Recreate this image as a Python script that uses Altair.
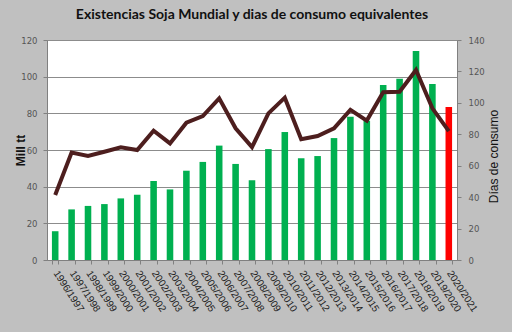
import altair as alt
import pandas as pd

campanas = ["1996/1997", "1997/1998", "1998/1999", "1999/2000", "2000/2001",
            "2001/2002", "2002/2003", "2003/2004", "2004/2005", "2005/2006",
            "2006/2007", "2007/2008", "2008/2009", "2009/2010", "2010/2011",
            "2011/2012", "2012/2013", "2013/2014", "2014/2015", "2015/2016",
            "2016/2017", "2017/2018", "2018/2019", "2019/2020", "2020/2021"]
existencias = [15.7, 27.6, 29.5, 30.5, 33.6, 35.6, 43.1, 38.5, 48.7, 53.5,
               62.4, 52.4, 43.5, 60.5, 69.8, 55.5, 56.7, 66.5, 78.2, 76.0,
               95.5, 98.9, 114.0, 96.0, 83.5]
dias = [41.4, 68.4, 66.2, 68.9, 71.7, 70.0, 82.3, 74.2, 87.4, 91.6,
        102.9, 83.8, 71.8, 93.3, 103.3, 76.8, 78.9, 83.8, 95.5, 88.7,
        106.7, 107.1, 120.9, 96.5, 82.0]
tipo = ["hist"] * 24 + ["est"]

df = pd.DataFrame({"campana": campanas, "existencias": existencias,
                   "dias": dias, "tipo": tipo})

xenc = alt.X("campana:N", sort=campanas, title=None,
             scale=alt.Scale(paddingInner=0.6, paddingOuter=0.3),
             axis=alt.Axis(labelAngle=57, labelAlign="left", labelBaseline="middle",
                           labelFont="Liberation Sans", labelFontSize=10,
                           labelColor="#222222", labelPadding=7,
                           tickBand="extent", tickSize=4, tickColor="#808080",
                           domainColor="#808080", labelOverlap=False))

bars = alt.Chart(df).mark_bar(stroke=None).encode(
    x=xenc,
    y=alt.Y("existencias:Q", title="Mill tt",
            scale=alt.Scale(domain=[0, 120]),
            axis=alt.Axis(values=[0, 20, 40, 60, 80, 100, 120], orient="left",
                          labelFont="DejaVu Sans", labelFontSize=8.5,
                          labelColor="#555555", tickSize=4, tickColor="#808080",
                          domainColor="#808080", gridColor="#8c8c8c",
                          titleFont="Liberation Sans", titleFontSize=12,
                          titleFontWeight="bold", titleColor="#111111",
                          titleX=-27, titleY=110, titleAngle=270,
                          titleAlign="center", titleBaseline="middle",
                          labelPadding=6)),
    color=alt.Color("tipo:N", scale=alt.Scale(domain=["hist", "est"],
                                              range=["#00b050", "#ff0000"]),
                    legend=None),
)

line = alt.Chart(df).mark_line(color="#4d1e1e", strokeWidth=4,
                               strokeJoin="miter").encode(
    x=alt.X("campana:N", sort=campanas),
    y=alt.Y("dias:Q", title="Días de consumo",
            scale=alt.Scale(domain=[0, 140]),
            axis=alt.Axis(values=[0, 20, 40, 60, 80, 100, 120, 140], orient="right",
                          grid=False,
                          labelFont="DejaVu Sans", labelFontSize=8.5,
                          labelColor="#555555", tickSize=4, tickColor="#808080",
                          domainColor="#808080",
                          titleFont="Liberation Sans", titleFontSize=12,
                          titleFontWeight="normal", titleColor="#111111",
                          titleX=36, titleY=116, titleAngle=270,
                          titleAlign="center", titleBaseline="middle",
                          labelPadding=7)),
)

chart = alt.layer(bars, line).resolve_scale(y="independent").properties(
    width=410, height=220,
    title=alt.TitleParams("Existencias Soja Mundial y dias de consumo equivalentes",
                          font="Lato", fontSize=14, fontWeight="bold",
                          color="#111111", anchor="middle", offset=14),
    autosize=alt.AutoSizeParams(type="none"),
    padding={"left": 47, "top": 40, "right": 55, "bottom": 72},
    background="#c0c0c0",
).configure_view(fill="white", stroke="#8c8c8c", strokeWidth=1)

chart.save("out.html", embed_options={"renderer": "svg", "actions": False})
